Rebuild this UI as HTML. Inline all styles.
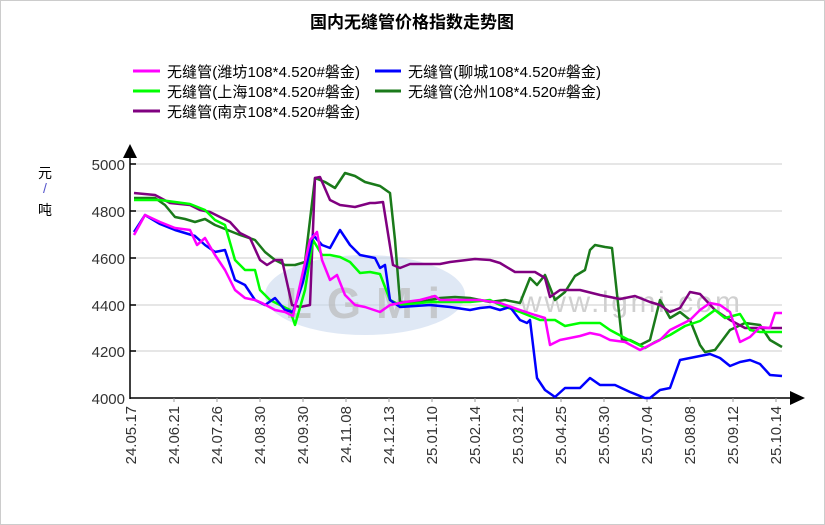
<!DOCTYPE html>
<html><head><meta charset="utf-8"><style>
body{margin:0;background:#fff}
svg{display:block}
text{font-family:"Liberation Sans","Noto Sans CJK SC",sans-serif}
</style></head><body>
<svg width="825" height="525" viewBox="0 0 825 525" xmlns="http://www.w3.org/2000/svg">
<rect x="0.5" y="0.5" width="824" height="524" fill="#fff" stroke="#ccc"/>
<text x="412" y="28" text-anchor="middle" font-size="17" font-weight="bold">国内无缝管价格指数走势图</text>
<g font-size="15" fill="#000">
<line x1="133" y1="71" x2="160" y2="71" stroke="#ff00ff" stroke-width="3"/><text x="167" y="77" textLength="193">无缝管(潍坊108*4.520#磐金)</text>
<line x1="375" y1="71" x2="401" y2="71" stroke="#0000ff" stroke-width="3"/><text x="408" y="77" textLength="193">无缝管(聊城108*4.520#磐金)</text>
<line x1="133" y1="91" x2="160" y2="91" stroke="#00ff00" stroke-width="3"/><text x="167" y="97" textLength="193">无缝管(上海108*4.520#磐金)</text>
<line x1="375" y1="91" x2="401" y2="91" stroke="#1a7a1a" stroke-width="3"/><text x="408" y="97" textLength="193">无缝管(沧州108*4.520#磐金)</text>
<line x1="133" y1="111" x2="160" y2="111" stroke="#800080" stroke-width="3"/><text x="167" y="117" textLength="193">无缝管(南京108*4.520#磐金)</text>
</g>
<g font-size="14" text-anchor="middle"><text x="45" y="178">元</text><text x="45" y="193" fill="#55c">/</text><text x="45" y="215">吨</text></g>
<g stroke="#ddd" stroke-width="1.5">
<line x1="131" y1="164" x2="782" y2="164"/><line x1="131" y1="211" x2="782" y2="211"/><line x1="131" y1="258" x2="782" y2="258"/><line x1="131" y1="305" x2="782" y2="305"/><line x1="131" y1="351" x2="782" y2="351"/>
</g>
<ellipse cx="365" cy="295" rx="100" ry="40" fill="#c9d9ee" opacity="0.6"/>
<text x="285" y="318" font-size="44" font-weight="bold" fill="#bbb" textLength="155" opacity="0.7">LGMi</text>
<text x="520" y="312" font-size="30" fill="#d0d0d0" font-family="Liberation Serif, serif" textLength="220">www.lgmi.com</text>
<g font-size="15" text-anchor="end" fill="#333">
<text x="125" y="170">5000</text><text x="125" y="217">4800</text><text x="125" y="264">4600</text><text x="125" y="311">4400</text><text x="125" y="357">4200</text><text x="125" y="404">4000</text>
</g>
<g stroke="#000" stroke-width="1.5">
<line x1="130" y1="155" x2="130" y2="399"/><line x1="130" y1="398" x2="792" y2="398"/>
<line x1="130" y1="164" x2="136" y2="164"/><line x1="130" y1="211" x2="136" y2="211"/><line x1="130" y1="258" x2="136" y2="258"/><line x1="130" y1="305" x2="136" y2="305"/><line x1="130" y1="351" x2="136" y2="351"/>
</g>
<polygon points="123,158 137,158 130,144" fill="#000"/>
<polygon points="790,391 790,405 805,398" fill="#000"/>
<g stroke="#999" stroke-width="1">
<line x1="174" y1="398" x2="174" y2="402"/><line x1="217" y1="398" x2="217" y2="402"/><line x1="260" y1="398" x2="260" y2="402"/><line x1="303" y1="398" x2="303" y2="402"/><line x1="346" y1="398" x2="346" y2="402"/><line x1="389" y1="398" x2="389" y2="402"/><line x1="432" y1="398" x2="432" y2="402"/><line x1="475" y1="398" x2="475" y2="402"/><line x1="518" y1="398" x2="518" y2="402"/><line x1="561" y1="398" x2="561" y2="402"/><line x1="604" y1="398" x2="604" y2="402"/><line x1="647" y1="398" x2="647" y2="402"/><line x1="690" y1="398" x2="690" y2="402"/><line x1="733" y1="398" x2="733" y2="402"/><line x1="776" y1="398" x2="776" y2="402"/>
</g>
<g font-size="15" text-anchor="end" fill="#333">
<text transform="translate(136,406) rotate(-90)">24.05.17</text>
<text transform="translate(179,406) rotate(-90)">24.06.21</text>
<text transform="translate(222,406) rotate(-90)">24.07.26</text>
<text transform="translate(265,406) rotate(-90)">24.08.30</text>
<text transform="translate(308,406) rotate(-90)">24.09.30</text>
<text transform="translate(351,406) rotate(-90)">24.11.08</text>
<text transform="translate(394,406) rotate(-90)">24.12.13</text>
<text transform="translate(437,406) rotate(-90)">25.01.10</text>
<text transform="translate(480,406) rotate(-90)">25.02.14</text>
<text transform="translate(523,406) rotate(-90)">25.03.21</text>
<text transform="translate(566,406) rotate(-90)">25.04.25</text>
<text transform="translate(609,406) rotate(-90)">25.05.30</text>
<text transform="translate(652,406) rotate(-90)">25.07.04</text>
<text transform="translate(695,406) rotate(-90)">25.08.08</text>
<text transform="translate(738,406) rotate(-90)">25.09.12</text>
<text transform="translate(781,406) rotate(-90)">25.10.14</text>
</g>
<g fill="none" stroke-width="2.5" stroke-linejoin="round">
<polyline stroke="#1a7a1a" points="134,198 155,198 165,205 175,217 185,219 195,222 205,219 215,225 240,235 255,240 265,252 275,260 285,265 295,265 305,262 315,178 325,182 335,188 345,173 355,176 365,182 380,186 390,193 395,240 400,302 420,302 440,298 455,297 470,298 490,302 505,300 520,303 530,278 537,285 545,275 555,300 565,292 575,276 585,270 590,250 595,245 605,247 612,248 622,340 630,340 640,345 650,340 660,300 670,318 680,312 690,320 700,345 705,352 715,350 730,330 745,323 760,325 770,340 782,347"/>
<polyline stroke="#800080" points="134,193 155,195 170,203 190,205 200,210 210,212 220,217 230,222 240,233 250,238 260,260 267,265 275,260 282,260 292,305 300,307 310,305 315,178 320,177 330,200 340,205 355,207 370,203 375,203 383,202 393,265 400,268 410,264 440,264 450,262 475,259 490,260 500,263 515,272 535,272 545,278 550,297 560,290 580,290 600,295 620,299 635,296 650,302 660,305 670,312 680,308 690,292 700,294 715,310 730,320 745,328 760,328 782,328"/>
<polyline stroke="#00ff00" points="134,200 160,200 190,204 205,210 215,220 225,225 235,260 245,270 255,270 260,290 270,300 280,305 290,310 295,325 305,290 313,240 322,255 330,255 340,257 350,262 360,273 370,272 380,274 390,300 400,305 430,302 470,302 490,300 500,305 520,312 540,320 555,320 565,326 580,323 600,323 610,330 625,338 645,348 655,342 670,335 685,326 700,321 715,310 725,318 740,314 750,330 760,332 782,332"/>
<polyline stroke="#0000ff" points="134,232 145,215 160,224 175,230 195,236 205,245 215,252 225,250 235,280 245,285 255,300 265,305 275,298 285,310 293,312 303,282 313,235 322,245 330,248 340,230 350,245 360,255 375,258 380,268 385,265 390,300 400,307 430,305 450,307 470,310 480,308 490,307 500,310 510,307 520,320 527,323 530,320 537,378 545,390 555,397 565,388 580,388 590,378 600,385 615,385 630,392 645,398 650,398 660,390 670,388 680,360 690,358 700,356 710,354 720,358 730,366 740,362 750,360 760,364 770,375 782,376"/>
<polyline stroke="#ff00ff" points="134,235 145,215 160,222 175,228 190,230 197,245 205,238 215,255 225,270 235,290 245,298 255,300 262,303 275,310 285,312 293,316 300,285 310,240 317,232 322,260 330,280 337,275 345,295 355,305 365,307 380,312 390,305 405,302 420,300 435,296 440,300 460,300 480,300 500,303 520,310 535,315 545,318 550,345 560,340 580,336 590,333 600,335 610,340 625,342 640,350 650,345 660,340 670,330 680,325 690,320 700,310 710,303 720,305 730,312 740,342 750,337 760,327 770,328 775,313 782,313"/>
</g>
</svg>
</body></html>
